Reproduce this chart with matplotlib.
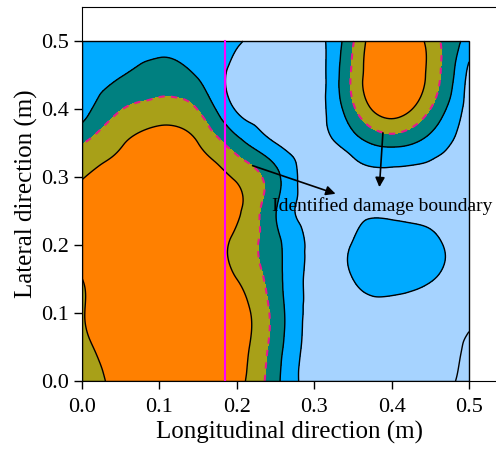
import numpy as np
import matplotlib.pyplot as plt
import matplotlib.tri as mtri
from matplotlib.patches import Rectangle

plt.rcParams['font.family'] = ['Liberation Serif', 'DejaVu Serif']

# grid positions (m)
x_pos = [0.0, 0.05, 0.10, 0.15, 0.20, 0.25, 0.30, 0.35, 0.40, 0.45, 0.50]
y_pos = [0.0, 0.05, 0.10, 0.15, 0.20, 0.25, 0.30, 0.35, 0.40, 0.45, 0.50]

# damage index, one row per y position
z_y000 = [3.40, 4.30, 4.60, 4.60, 4.30, 2.30, 0.50, 0.40, 0.35, 0.20, -0.15]
z_y005 = [3.75, 4.50, 4.80, 4.80, 4.45, 2.50, 0.55, 0.45, 0.45, 0.30, -0.10]
z_y010 = [3.93, 4.70, 5.00, 5.00, 4.50, 2.60, 0.60, 0.55, 0.65, 0.50, 0.20]
z_y015 = [3.99, 4.80, 5.10, 5.00, 4.00, 2.40, 0.70, 1.00, 1.35, 1.05, 0.50]
z_y020 = [4.60, 5.00, 5.20, 5.00, 3.70, 2.30, 0.75, 1.05, 1.40, 1.15, 0.60]
z_y025 = [4.50, 5.00, 5.20, 5.00, 4.20, 2.05, 0.50, 0.75, 0.85, 0.80, 0.60]
z_y030 = [3.95, 4.50, 4.90, 4.70, 3.85, 2.30, 0.35, 0.60, 0.75, 0.70, 0.60]
z_y035 = [2.95, 3.90, 4.50, 4.00, 2.40, 1.00, 0.60, 1.50, 2.30, 1.60, 0.50]
z_y040 = [1.50, 2.95, 3.40, 2.95, 0.90, 0.45, 0.55, 2.80, 4.50, 3.00, 0.60]
z_y045 = [1.50, 1.95, 2.40, 1.90, 0.75, 0.40, 0.40, 3.20, 5.00, 3.70, 0.75]
z_y050 = [1.30, 1.60, 1.65, 1.55, 1.10, 0.45, 0.55, 2.90, 5.20, 3.60, 1.60]

levels = [-5, 0, 1, 2, 3, 4, 10]
fill_colors = ['#a6d3ff', '#a6d3ff', '#00aaff', '#008080', '#a8a018', '#ff8000']

sensor_x = 0.185

Z = np.array([z_y000, z_y005, z_y010, z_y015, z_y020, z_y025,
              z_y030, z_y035, z_y040, z_y045, z_y050])
X, Y = np.meshgrid(x_pos, y_pos)
tri = mtri.Triangulation(X.ravel(), Y.ravel())
refiner = mtri.UniformTriRefiner(tri)
tri_f, z_f = refiner.refine_field(Z.ravel(), subdiv=4)

fig = plt.figure(figsize=(4.96, 4.5), dpi=100)
ax = fig.add_axes([82 / 496, 69 / 450, 414 / 496, 374 / 450])

ax.tricontourf(tri_f, z_f, levels=levels, colors=fill_colors)
ax.tricontour(tri_f, z_f, levels=[0, 1, 2, 4], colors='k', linewidths=1)
ax.tricontour(tri_f, z_f, levels=[3], colors='#e8198b', linewidths=1.5,
              linestyles=[(0, (3, 3))])
ax.add_patch(Rectangle((0, 0), 0.5, 0.5, fill=False, ec='k', lw=1, zorder=3))
ax.plot([sensor_x, sensor_x], [0, 0.5], color='#ff00ff', lw=1.5, zorder=4)

ax.annotate('', xy=(0.331, 0.274), xytext=(0.217, 0.318),
            arrowprops=dict(arrowstyle='-|>', color='k', lw=1.2, mutation_scale=14))
ax.annotate('', xy=(0.384, 0.281), xytext=(0.389, 0.369),
            arrowprops=dict(arrowstyle='-|>', color='k', lw=1.2, mutation_scale=14))
ax.text(0.388, 0.257, 'Identified damage boundary', ha='center', va='center',
        fontsize=14)

ax.set_xlim(0, 414 / 774)
ax.set_ylim(0, 374 / 680)
ax.set_xticks([0.0, 0.1, 0.2, 0.3, 0.4, 0.5])
ax.set_yticks([0.0, 0.1, 0.2, 0.3, 0.4, 0.5])
ax.tick_params(direction='out', length=6, width=1, labelsize=16)
ax.tick_params(axis='x', pad=6)
ax.spines['right'].set_visible(False)
ax.set_xlabel('Longitudinal direction (m)', fontsize=18, labelpad=3)
ax.set_ylabel('Lateral direction (m)', fontsize=18, labelpad=2)

fig.savefig('out.png', dpi=100)
